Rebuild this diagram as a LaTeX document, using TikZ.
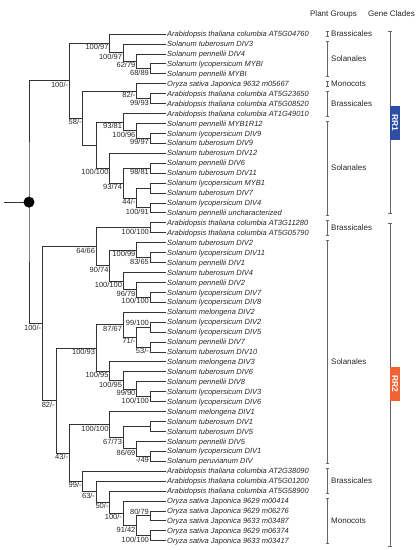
\documentclass[tikz,border=0pt]{standalone}
\usepackage{fontspec}
\setmainfont{Liberation Sans}
\usetikzlibrary{calc}
\definecolor{rrblue}{RGB}{46,78,166}
\definecolor{rrorange}{RGB}{240,98,50}
\tikzset{%
taxon/.style={anchor=west,font=\fontsize{7.5}{8}\selectfont\itshape,inner sep=1pt,text height=5.4pt,text depth=0pt,text=black!85},
support/.style={anchor=north east,font=\fontsize{7.5}{8}\selectfont,inner sep=1pt,text height=5.4pt,text depth=0pt,text=black!85},
supportup/.style={support,anchor=south east},
branch/.style={draw=black!80,line width=0.75pt},
bracket/.style={draw=black!60,line width=0.75pt},
grouplabel/.style={anchor=west,font=\fontsize{8}{9}\selectfont,inner sep=0pt,text=black!85},
header/.style={font=\fontsize{8}{9}\selectfont,inner sep=0pt,text=black!85},
cladebox/.style={fill=#1,text=white,font=\fontsize{8.5}{9}\selectfont\bfseries,rotate=-90,inner sep=0pt,minimum width=34pt,minimum height=10pt}
}
% x of the node at depth #1
\newcommand{\depth}[1]{29pt+13.45pt*#1}
% \clade[label style]{name}{depth}{upper child}{lower child}{support}
\newcommand{\clade}[6][support]{%
  \path let \p1=($(#4)!0.5!(#5)$) in coordinate (#2) at ({\depth{#3}},\y1);
  \draw[branch] (#4) -| (#2) |- (#5);
  \if\relax\detokenize{#6}\relax\else
    \node[#1] (#2-bs) at (#2) {#6};
  \fi
}

\begin{document}
\begin{tikzpicture}[x=1pt,y=-1pt]
  \useasboundingbox (0,0) rectangle (418,550);

  % taxa
  \foreach \txt [count=\i] in {%
    Arabidopsis thaliana columbia AT5G04760,
    Solanum tuberosum DIV3,
    Solanum pennellii DIV4,
    Solanum lycopersicum MYBI,
    Solanum pennellii MYBI,
    Oryza sativa Japonica 9632 m05667,
    Arabidopsis thaliana columbia AT5G23650,
    Arabidopsis thaliana columbia AT5G08520,
    Arabidopsis thaliana columbia AT1G49010,
    Solanum pennellii MYB1R12,
    Solanum lycopersicum DIV9,
    Solanum tuberosum DIV9,
    Solanum tuberosum DIV12,
    Solanum pennellii DIV6,
    Solanum tuberosum DIV11,
    Solanum lycopersicum MYB1,
    Solanum tuberosum DIV7,
    Solanum lycopersicum DIV4,
    Solanum pennellii uncharacterized,
    Arabidopsis thaliana columbia AT3G11280,
    Arabidopsis thaliana columbia AT5G05790,
    Solanum tuberosum DIV2,
    Solanum lycopersicum DIV11,
    Solanum pennellii DIV1,
    Solanum tuberosum DIV4,
    Solanum pennellii DIV2,
    Solanum lycopersicum DIV7,
    Solanum lycopersicum DIV8,
    Solanum melongena DIV2,
    Solanum lycopersicum DIV2,
    Solanum lycopersicum DIV5,
    Solanum pennellii DIV7,
    Solanum tuberosum DIV10,
    Solanum melongena DIV3,
    Solanum tuberosum DIV6,
    Solanum pennellii DIV8,
    Solanum lycopersicum DIV3,
    Solanum lycopersicum DIV6,
    Solanum melongena DIV1,
    Solanum tuberosum DIV1,
    Solanum tuberosum DIV5,
    Solanum pennellii DIV5,
    Solanum lycopersicum DIV1,
    Solanum peruvianum DIV,
    Arabidopsis thaliana columbia AT2G38090,
    Arabidopsis thaliana columbia AT5G01200,
    Arabidopsis thaliana columbia AT5G58900,
    Oryza sativa Japonica 9629 m00414,
    Oryza sativa Japonica 9629 m06276,
    Oryza sativa Japonica 9633 m03487,
    Oryza sativa Japonica 9629 m06374,
    Oryza sativa Japonica 9633 m03417}
    \node[taxon] (l\i) at (166,{34+9.935*(\i-1)}) {\txt};

  % RR1
  \clade{e}{9}{l4}{l5}{68/89}
  \clade{d}{8}{l3}{e}{62/79}
  \clade{c}{7}{l2}{d}{100/97}
  \clade{b}{6}{l1}{c}{100/97}
  \clade{g2}{9}{l7}{l8}{99/93}
  \clade{g}{8}{l6}{g2}{82/-}
  \clade{i3}{9}{l11}{l12}{99/97}
  \clade{i2}{8}{l10}{i3}{100/96}
  \clade{i}{7}{l9}{i2}{93/81}
  \clade{k1}{9}{l14}{l15}{98/81}
  \clade{m1}{9}{l16}{l17}{}
  \clade{m2}{9}{l18}{l19}{100/91}
  \clade{m}{8}{m1}{m2}{44/-}
  \clade{k}{7}{k1}{m}{93/74}
  \clade{j}{6}{l13}{k}{100/100}
  \clade{h}{5}{i}{j}{}
  \clade{f}{4}{g}{h}{58/-}
  \clade{rr1}{3}{b}{f}{100/-}

  % RR2
  \clade{q1}{9}{l20}{l21}{100/100}
  \clade{q3b}{9}{l23}{l24}{83/65}
  \clade{q3}{8}{l22}{q3b}{100/99}
  \clade{q6}{9}{l27}{l28}{100/100}
  \clade{q5}{8}{l26}{q6}{96/79}
  \clade{q4}{7}{l25}{q5}{100/100}
  \clade{q2}{6}{q3}{q4}{90/74}
  \clade{q}{5}{q1}{q2}{64/66}
  \clade[supportup]{s1b}{9}{l30}{l31}{99/100}
  \clade{s1c}{9}{l32}{l33}{53/-}
  \clade{s1a}{8}{s1b}{s1c}{71/-}
  \clade{s1}{7}{l29}{s1a}{87/67}
  \clade{s5}{9}{l37}{l38}{100/100}
  \clade{s4}{8}{l36}{s5}{99/90}
  \clade{s3}{7}{l35}{s4}{100/95}
  \clade{s2}{6}{l34}{s3}{100/95}
  \clade{s}{5}{s1}{s2}{100/93}
  \clade{u2}{9}{l40}{l41}{}
  \clade{u4}{9}{l43}{l44}{-/49}
  \clade{u3}{8}{l42}{u4}{86/69}
  \clade{u1}{7}{u2}{u3}{67/73}
  \clade{u}{6}{l39}{u1}{100/100}
  \clade[supportup]{v5}{9}{l49}{l50}{80/79}
  \clade{v6}{9}{l51}{l52}{100/100}
  \clade{v4}{8}{v5}{v6}{91/42}
  \clade{v3}{7}{l48}{v4}{100/-}
  \clade{v2}{6}{l47}{v3}{50/-}
  \clade{v1}{5}{l46}{v2}{63/-}
  \clade{v}{4}{l45}{v1}{99/-}
  \clade{t}{3}{u}{v}{43/-}
  \clade{r}{2}{s}{t}{82/-}
  \clade{rr2}{1}{q}{r}{100/-}

  % root
  \clade{root}{0}{rr1}{rr2}{}
  \coordinate (stub) at ($(root)+(-25,0)$);
  \draw[branch] (stub) -- (root);
  \fill[black] (root) circle (5.5);

  % plant groups
  \node[header] (plantgroups) at (333.5,14) {Plant Groups};
  \foreach \first/\last/\mid/\grp [count=\n] in {1/1/1/Brassicales, 2/5/3.5/Solanales,
      6/6/6/Monocots, 7/9/8/Brassicales, 10/19/14.5/Solanales, 20/21/20.5/Brassicales,
      22/44/34/Solanales, 45/47/46/Brassicales, 48/52/50/Monocots}{
    \draw[bracket] (325.5,{34+9.935*(\first-1)-2.5}) -- ++(3,0)
      (327,{34+9.935*(\first-1)-2.5}) -- (327,{34+9.935*(\last-1)+2.5})
      (325.5,{34+9.935*(\last-1)+2.5}) -- ++(3,0);
    \node[grouplabel] (group\n) at (331,{34+9.935*(\mid-1)}) {\grp};
  }

  % gene clades
  \node[header] (geneclades) at (391.5,14) {Gene Clades};
  \draw[bracket] (388,31) -- ++(4,0) (390,31) -- (390,213.5) (388,213.5) -- ++(4,0);
  \draw[bracket] (388,223) -- ++(4,0) (390,223) -- (390,546) (388,546) -- ++(4,0);
  \node[cladebox=rrblue] (rr1box) at (395,123) {RR1};
  \node[cladebox=rrorange] (rr2box) at (395,384) {RR2};
\end{tikzpicture}
\end{document}
